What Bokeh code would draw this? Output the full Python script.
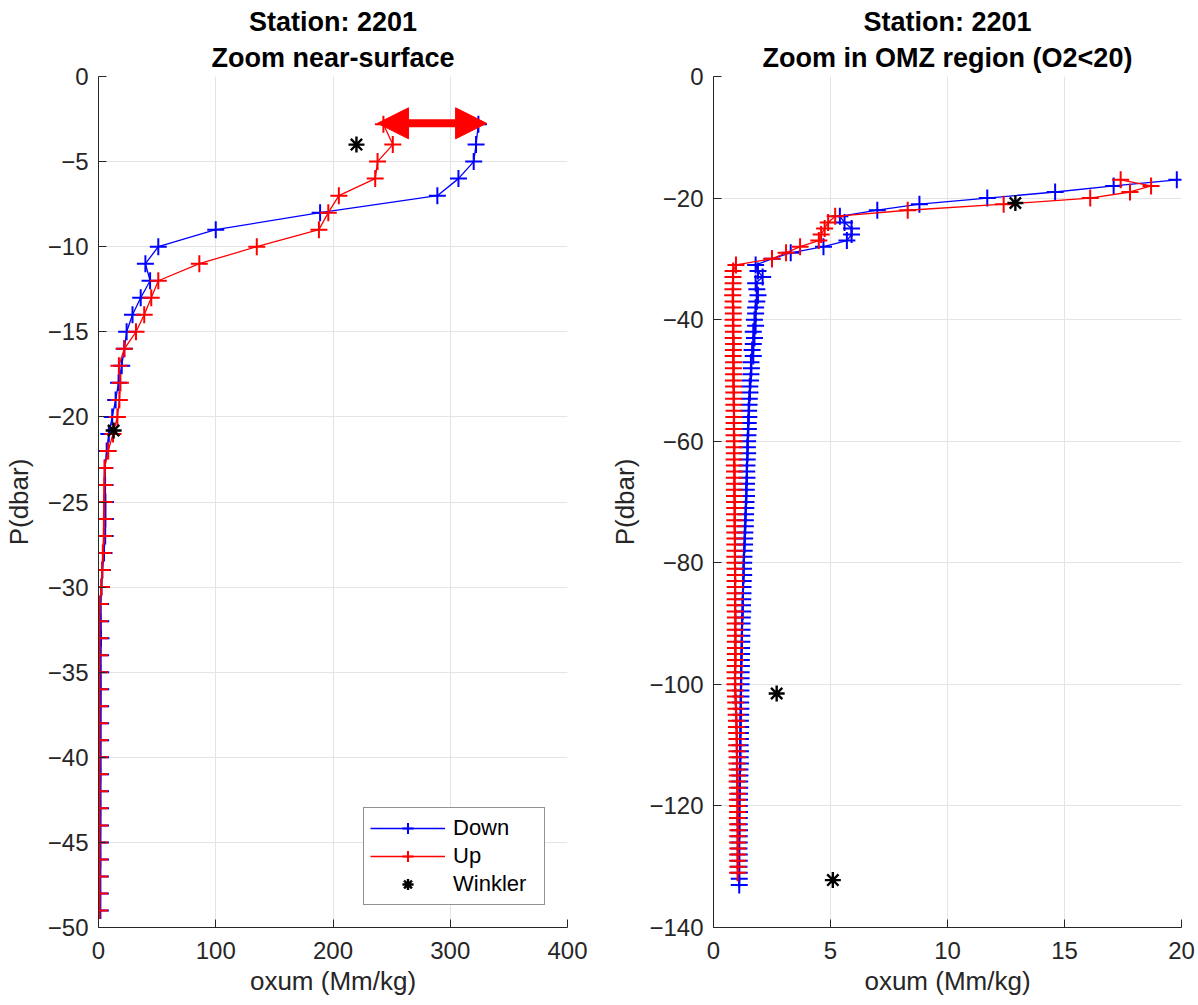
from bokeh.plotting import figure
from bokeh.layouts import row
from bokeh.models import (Range1d, FixedTicker, Title, Legend, LegendItem,
                          Arrow, NormalHead, ColumnDataSource)
from bokeh.embed import file_html
from bokeh.resources import INLINE

# ---------------- data ----------------
station = "Station: 2201"
titles = ["Zoom near-surface", "Zoom in OMZ region (O2<20)"]

pressure = [
    -2.8, -4, -5, -6, -7, -8, -9, -10, -11, -12,
    -13, -14, -15, -16, -17, -18, -19, -20, -21, -22,
    -23, -24, -25, -26, -27, -28, -29, -30, -31, -32,
    -33, -34, -35, -36, -37, -38, -39, -40, -41, -42,
    -43, -44, -45, -46, -47, -48, -49, -50, -51, -52,
    -53, -54, -55, -56, -57, -58, -59, -60, -61, -62,
    -63, -64, -65, -66, -67, -68, -69, -70, -71, -72,
    -73, -74, -75, -76, -77, -78, -79, -80, -81, -82,
    -83, -84, -85, -86, -87, -88, -89, -90, -91, -92,
    -93, -94, -95, -96, -97, -98, -99, -100, -101, -102,
    -103, -104, -105, -106, -107, -108, -109, -110, -111, -112,
    -113, -114, -115, -116, -117, -118, -119, -120, -121, -122,
    -123, -124, -125, -126, -127, -128, -129, -130, -131, -132,
    -133,
]

down_oxum = [
    324, 322, 320, 307, 289, 189, 100, 51, 40, 44,
    36, 29, 24, 22, 19.8, 17.1, 14.6, 11.7, 8.8, 7.0,
    5.4, 5.6, 5.9, 5.9, 5.7, 4.7, 3.3, 2.5, 1.8, 1.9,
    2.1, 1.8, 1.85, 1.9, 1.85, 1.8, 1.8, 1.75, 1.8, 1.7,
    1.75, 1.7, 1.65, 1.7, 1.6, 1.62, 1.6, 1.58, 1.55, 1.56,
    1.53, 1.52, 1.5, 1.51, 1.48, 1.49, 1.47, 1.46, 1.45, 1.46,
    1.44, 1.43, 1.42, 1.43, 1.41, 1.4, 1.41, 1.39, 1.38, 1.37,
    1.36, 1.36, 1.34, 1.33, 1.33, 1.31, 1.3, 1.29, 1.28, 1.29,
    1.27, 1.26, 1.26, 1.25, 1.24, 1.25, 1.23, 1.22, 1.22, 1.21,
    1.21, 1.2, 1.2, 1.19, 1.19, 1.18, 1.18, 1.18, 1.17, 1.17,
    1.16, 1.17, 1.16, 1.15, 1.16, 1.15, 1.15, 1.14, 1.15, 1.14,
    1.15, 1.13, 1.13, 1.12, 1.12, 1.11, 1.11, 1.1, 1.11, 1.1,
    1.1, 1.11, 1.1, 1.1, 1.09, 1.1, 1.1, 1.09, 1.1, 1.1,
    1.1,
]

up_oxum = [
    243, 251, 238, 236, 205, 196, 188, 135, 86, 51,
    45, 39, 32, 22, 17.4, 18.7, 17.8, 16.1, 12.4, 8.3,
    5.2, 4.9, 4.75, 4.6, 4.5, 3.7, 3.1, 2.5, 0.96, 0.84,
    0.83, 0.84, 0.83, 0.82, 0.84, 0.83, 0.85, 0.84, 0.83, 0.85,
    0.84, 0.86, 0.85, 0.84, 0.86, 0.85, 0.86, 0.85, 0.86, 0.87,
    0.86, 0.87, 0.88, 0.87, 0.88, 0.87, 0.88, 0.89, 0.88, 0.89,
    0.88, 0.89, 0.9, 0.89, 0.9, 0.89, 0.9, 0.9, 0.91, 0.9,
    0.91, 0.9, 0.91, 0.92, 0.91, 0.92, 0.91, 0.92, 0.92, 0.93,
    0.92, 0.93, 0.92, 0.93, 0.92, 0.93, 0.94, 0.93, 0.93, 0.94,
    0.93, 0.94, 0.93, 0.94, 0.93, 0.92, 0.93, 0.92, 0.93, 0.94,
    0.95, 0.96, 0.97, 0.98, 0.98, 0.99, 1.0, 0.99, 1.0, 1.01,
    1.0, 1.01, 1.02, 1.01, 1.02, 1.03, 1.02, 1.03, 1.03, 1.02,
    1.03, 1.04, 1.03, 1.03, 1.04, 1.03, 1.03, 1.04, 1.03,
]

winkler_oxum = [220, 12.9, 2.7, 5.1]
winkler_p = [-4.0, -20.8, -101.5, -132.2]

# annotation arrow (near-surface difference between casts)
arrow_oxum = [238, 331]
arrow_p = -2.75

left_xticks = [0, 100, 200, 300, 400]
left_xlabels = ["0", "100", "200", "300", "400"]
left_yticks = [0, -5, -10, -15, -20, -25, -30, -35, -40, -45, -50]
left_ylabels = ["0", "\u22125", "\u221210", "\u221215", "\u221220", "\u221225",
                "\u221230", "\u221235", "\u221240", "\u221245", "\u221250"]
right_xticks = [0, 5, 10, 15, 20]
right_xlabels = ["0", "5", "10", "15", "20"]
right_yticks = [0, -20, -40, -60, -80, -100, -120, -140]
right_ylabels = ["0", "\u221220", "\u221240", "\u221260", "\u221280",
                 "\u2212100", "\u2212120", "\u2212140"]

xlabel = "oxum (Mm/kg)"
ylabel = "P(dbar)"

# ---------------- styling ----------------
FONT = "Liberation Sans"
BLUE = "#0000ff"
RED = "#ff0000"
INK = "#262626"
GRID = "#e4e4e4"

up_p = pressure[:len(up_oxum)]
down_p = pressure[:len(down_oxum)]


def subset(ox, pr, keep):
    xs, ps = [], []
    for o, q in zip(ox, pr):
        if keep(o, q):
            xs.append(o)
            ps.append(q)
    return ColumnDataSource(dict(x=xs, y=ps))


def make_fig(xr, yr, xticks, xlabs, yticks, ylabs, subtitle, fw, mbl, mbr,
             ylab_standoff, keep, with_legend, with_arrow):
    p = figure(output_backend="svg", toolbar_location=None, title=None,
               frame_width=fw, frame_height=851,
               x_range=Range1d(*xr), y_range=Range1d(*yr),
               min_border_left=mbl, min_border_right=mbr,
               min_border_top=76, min_border_bottom=70,
               background_fill_color="white", border_fill_color="white")
    p.outline_line_color = None

    p.add_layout(Title(text=subtitle, align="center", text_font=FONT,
                       text_font_size="27px", text_font_style="bold",
                       text_color="black", standoff=8), "above")
    p.add_layout(Title(text=station, align="center", text_font=FONT,
                       text_font_size="27px", text_font_style="bold",
                       text_color="black", standoff=0), "above")

    p.xaxis.ticker = FixedTicker(ticks=xticks)
    p.yaxis.ticker = FixedTicker(ticks=yticks)
    p.xaxis.major_label_overrides = dict(zip(xticks, xlabs))
    p.yaxis.major_label_overrides = dict(zip(yticks, ylabs))
    for ax in (p.xaxis[0], p.yaxis[0]):
        ax.axis_line_color = INK
        ax.axis_line_width = 1
        ax.major_tick_line_color = INK
        ax.major_tick_in = 8
        ax.major_tick_out = 0
        ax.minor_tick_line_color = None
        ax.major_label_text_font = FONT
        ax.major_label_text_font_size = "24px"
        ax.major_label_text_color = INK
        ax.axis_label_text_font = FONT
        ax.axis_label_text_font_size = "26px"
        ax.axis_label_text_font_style = "normal"
        ax.axis_label_text_color = INK
    p.xaxis.major_label_standoff = 14
    p.yaxis.major_label_standoff = 10
    p.xaxis.axis_label = xlabel
    p.yaxis.axis_label = ylabel
    p.xaxis.axis_label_standoff = 4
    p.yaxis.axis_label_standoff = ylab_standoff

    p.xgrid.grid_line_color = GRID
    p.ygrid.grid_line_color = GRID

    dsrc = subset(down_oxum, down_p, keep)
    usrc = subset(up_oxum, up_p, keep)
    wsrc = ColumnDataSource(dict(x=winkler_oxum, y=winkler_p))

    dl = p.line("x", "y", source=dsrc, line_color=BLUE, line_width=1.3)
    dm = p.scatter("x", "y", source=dsrc, marker="cross", size=17,
                   line_color=BLUE, line_width=2)
    ul = p.line("x", "y", source=usrc, line_color=RED, line_width=1.3)
    um = p.scatter("x", "y", source=usrc, marker="cross", size=17,
                   line_color=RED, line_width=2)
    wm = p.scatter("x", "y", source=wsrc, marker="asterisk", size=16,
                   line_color="black", line_width=2.4)

    if with_arrow:
        p.add_layout(Arrow(
            start=NormalHead(size=31, fill_color=RED, line_color=RED),
            end=NormalHead(size=31, fill_color=RED, line_color=RED),
            x_start=arrow_oxum[0], y_start=arrow_p,
            x_end=arrow_oxum[1], y_end=arrow_p,
            line_color=RED, line_width=8))

    if with_legend:
        leg = Legend(items=[LegendItem(label="Down", renderers=[dl, dm]),
                            LegendItem(label="Up", renderers=[ul, um]),
                            LegendItem(label="Winkler", renderers=[wm])],
                     location=(265, 22),
                     label_text_font=FONT, label_text_font_size="22px",
                     label_text_color="black",
                     glyph_width=75, glyph_height=28, label_height=28,
                     label_width=85,
                     label_standoff=8, spacing=0, padding=6,
                     border_line_color=INK, border_line_width=1,
                     background_fill_color="white", background_fill_alpha=1.0)
        p.add_layout(leg)
    return p


p1 = make_fig((0, 400), (-50, 0), left_xticks, left_xlabels, left_yticks,
              left_ylabels, titles[0], 469, 96, 40, 11,
              lambda o, q: q >= -49.5, True, True)
p2 = make_fig((0, 20), (-140, 0), right_xticks, right_xlabels, right_yticks,
              right_ylabels, titles[1], 468, 105, 15, 6,
              lambda o, q: o < 20, False, False)

layout = row(p1, p2)
open("out.html", "w").write(file_html(layout, INLINE))
